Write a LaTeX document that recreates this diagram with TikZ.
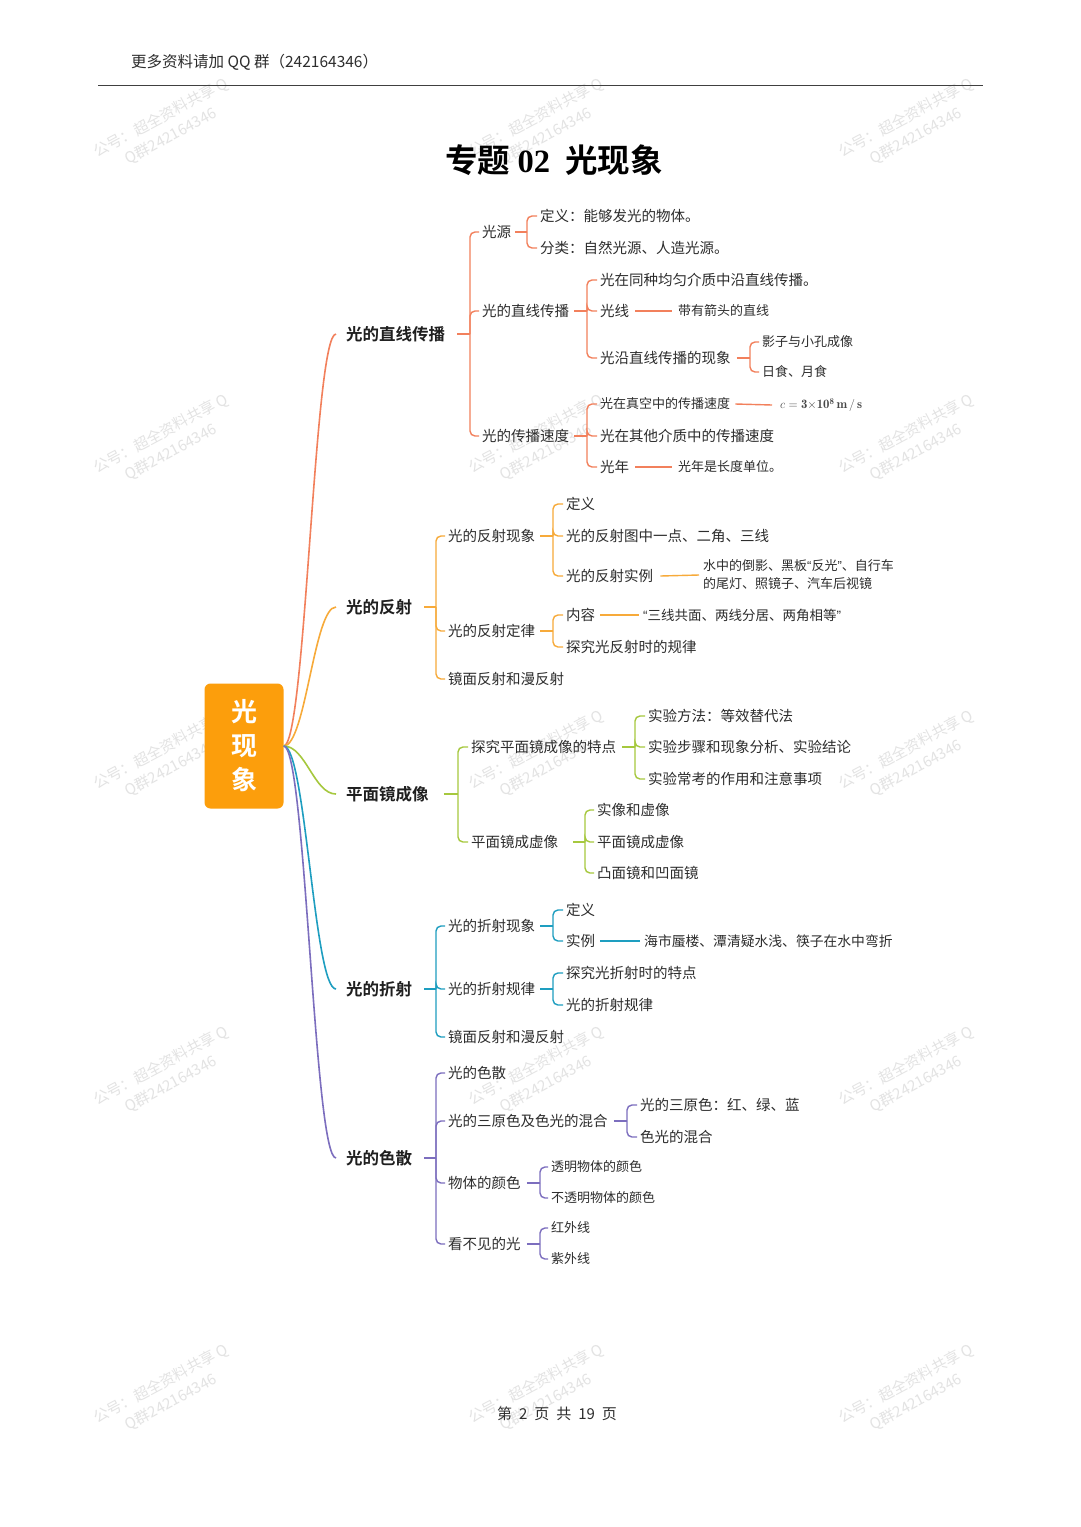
\documentclass[tikz,border=0pt]{standalone}
\usepackage{fontspec}
\newfontfamily\cjk{Noto Sans CJK SC}
\newfontfamily\cjkb{Noto Sans CJK SC Bold}
\newfontfamily\lat{Liberation Sans}
\newfontfamily\serifb{Liberation Serif Bold}
\definecolor{ca}{RGB}{242,128,92}
\definecolor{cb}{RGB}{247,170,58}
\definecolor{cc}{RGB}{166,200,62}
\definecolor{cd}{RGB}{30,158,192}
\definecolor{ce}{RGB}{124,110,190}
\definecolor{rootc}{RGB}{252,158,12}
\definecolor{txtc}{RGB}{45,45,45}
\newcommand\brk[5]{%
  \draw[#1,cn] ([xshift=#3]#2.east) -- (#2.east -| #4,0);
  \foreach \c in {#5}{\draw[#1,cn] (#2.east -| #4,0) |- ([xshift=-3pt]\c.west);}}
\newcommand\myoq{{\lat “}}
\newcommand\mycq{{\lat ”}}
\begin{document}
\begin{tikzpicture}[x=1pt,y=-1pt,
  base/.style={anchor=west, inner sep=0pt, text=txtc},
  txt/.style={base, font=\cjk\fontsize{14.5}{16}\selectfont, text height=12.7pt, text depth=1.8pt},
  sm/.style={base, font=\cjk\fontsize{13}{15}\selectfont, text height=11.4pt, text depth=1.6pt},
  lone/.style={base, text=black!88, font=\cjkb\fontsize{16.5}{18}\selectfont, text height=14.5pt, text depth=2pt},
  cn/.style={line width=1.4pt, rounded corners=5pt},
  rcv/.style={line width=1.6pt},
  wm/.style={text=black!11, font=\cjk\fontsize{15}{21}\selectfont, rotate=28, inner sep=0pt, align=center},
]
\useasboundingbox (0,0) rectangle (1080,1527);
\fill[white] (0,0) rectangle (1080,1527);
% watermarks
\foreach \dx in {0,375,745}{\foreach \dy in {0,316,632,948,1266}{
  \node[wm] (w-\dx-\dy) at (166+\dx,127+\dy) {公号：超全资料共享 Q\\Q群242164346};
}}
% header
\node[base, font=\cjk\fontsize{15.5}{17}\selectfont] (hdr) at (131,62) {更多资料请加 QQ 群（242164346）};
\coordinate (rl) at (98,85);
\coordinate (rr) at (983,85);
\draw[black!75, line width=1pt] (rl) -- (rr);
\node[inner sep=0pt, text=black, font=\cjkb\fontsize{32.5}{35}\selectfont] (title) at (554,160) {专题 {\serifb 02}\hspace{15pt}光现象};
\node[inner sep=0pt, text=txtc, font=\cjk\fontsize{15}{16}\selectfont] (foot) at (557,1414) {第\hspace{7pt}2\hspace{7pt}页\hspace{7pt}共\hspace{7pt}19\hspace{7pt}页};
% root
\node[fill=rootc, rounded corners=6pt, minimum width=79pt, minimum height=125pt, inner sep=0pt,
  text=white, align=center, font=\cjkb\fontsize{26}{34}\selectfont] (R) at (244,746) {光\\现\\象};
% level 1
\node[lone] (A) at (346,334) {光的直线传播};
\node[lone] (B) at (346,607) {光的反射};
\node[lone] (C) at (346,794) {平面镜成像};
\node[lone] (D) at (346,989) {光的折射};
\node[lone] (E) at (346,1158) {光的色散};
\draw[ca,rcv] (R.east) .. controls +(22,0) and +(-22,0) .. ([xshift=-10pt]A.west);
\draw[cb,rcv] (R.east) .. controls +(22,0) and +(-22,0) .. ([xshift=-10pt]B.west);
\draw[cc,rcv] (R.east) .. controls +(22,0) and +(-22,0) .. ([xshift=-10pt]C.west);
\draw[cd,rcv] (R.east) .. controls +(22,0) and +(-22,0) .. ([xshift=-10pt]D.west);
\draw[ce,rcv] (R.east) .. controls +(22,0) and +(-22,0) .. ([xshift=-10pt]E.west);
% ---- section A
\node[txt] (A1) at (482,232) {光源};
\node[txt] (A11) at (540,216) {定义：能够发光的物体。};
\node[txt] (A12) at (540,248) {分类：自然光源、人造光源。};
\node[txt] (A2) at (482,311) {光的直线传播};
\node[txt] (A21) at (600,280) {光在同种均匀介质中沿直线传播。};
\node[txt] (A22) at (600,311) {光线};
\node[sm] (A22a) at (678,311) {带有箭头的直线};
\node[txt] (A23) at (600,358) {光沿直线传播的现象};
\node[sm] (A231) at (762,342) {影子与小孔成像};
\node[sm] (A232) at (762,372) {日食、月食};
\node[txt] (A3) at (482,436) {光的传播速度};
\node[sm] (A31) at (600,404) {光在真空中的传播速度};
\node[base, text=black!72, font=\fontsize{12.8}{14}\selectfont] (A31a) at (780,405) {$c=\mathbf{3{\times}10^{8}\,m\,/\,s}$};
\node[txt] (A32) at (600,436) {光在其他介质中的传播速度};
\node[txt] (A33) at (600,467) {光年};
\node[sm] (A33a) at (678,467) {光年是长度单位。};
\brk{ca}{A}{12pt}{470}{A1,A2,A3}
\brk{ca}{A1}{4pt}{527}{A11,A12}
\brk{ca}{A2}{5pt}{587}{A21,A22,A23}
\brk{ca}{A23}{6pt}{750}{A231,A232}
\brk{ca}{A3}{5pt}{587}{A31,A32,A33}
\draw[ca,cn] ([xshift=6pt]A22.east) -- ([xshift=-6pt]A22a.west);
\draw[ca,cn] ([xshift=5pt]A31.east) -- ([xshift=-8pt]A31a.west);
\draw[ca,cn] ([xshift=6pt]A33.east) -- ([xshift=-6pt]A33a.west);
% ---- section B
\node[txt] (B1) at (448,536) {光的反射现象};
\node[txt] (B11) at (566,504) {定义};
\node[txt] (B12) at (566,536) {光的反射图中一点、二角、三线};
\node[txt] (B13) at (566,576) {光的反射实例};
\node[base, align=left, font=\cjk\fontsize{13}{18}\selectfont] (B13a) at (703,575) {水中的倒影、黑板\myoq 反光\mycq 、自行车\\的尾灯、照镜子、汽车后视镜};
\node[txt] (B2) at (448,631) {光的反射定律};
\node[txt] (B21) at (566,615) {内容};
\node[base, font=\cjk\fontsize{13.5}{15}\selectfont, text height=11.8pt, text depth=1.7pt] (B21a) at (643,615) {\myoq 三线共面、两线分居、两角相等\mycq};
\node[txt] (B22) at (566,647) {探究光反射时的规律};
\node[txt] (B3) at (448,679) {镜面反射和漫反射};
\brk{cb}{B}{12pt}{436}{B1,B2,B3}
\brk{cb}{B1}{5pt}{553}{B11,B12,B13}
\brk{cb}{B2}{5pt}{553}{B21,B22}
\draw[cb,cn] ([xshift=7pt]B13.east) -- ([xshift=-4pt]B13a.west);
\draw[cb,cn] ([xshift=5pt]B21.east) -- ([xshift=-4pt]B21a.west);
% ---- section C
\node[txt] (C1) at (471,747) {探究平面镜成像的特点};
\node[txt] (C11) at (648,716) {实验方法：等效替代法};
\node[txt] (C12) at (648,747) {实验步骤和现象分析、实验结论};
\node[txt] (C13) at (648,779) {实验常考的作用和注意事项};
\node[txt] (C2) at (471,842) {平面镜成虚像};
\node[txt] (C21) at (597,810) {实像和虚像};
\node[txt] (C22) at (597,842) {平面镜成虚像};
\node[txt] (C23) at (597,873) {凸面镜和凹面镜};
\brk{cc}{C}{15pt}{458}{C1,C2}
\brk{cc}{C1}{6pt}{635}{C11,C12,C13}
\brk{cc}{C2}{15pt}{585}{C21,C22,C23}
% ---- section D
\node[txt] (D1) at (448,926) {光的折射现象};
\node[txt] (D11) at (566,910) {定义};
\node[txt] (D12) at (566,941) {实例};
\node[base, font=\cjk\fontsize{13.8}{15}\selectfont, text height=12pt, text depth=1.7pt] (D12a) at (644,941) {海市蜃楼、潭清疑水浅、筷子在水中弯折};
\node[txt] (D2) at (448,989) {光的折射规律};
\node[txt] (D21) at (566,973) {探究光折射时的特点};
\node[txt] (D22) at (566,1005) {光的折射规律};
\node[txt] (D3) at (448,1037) {镜面反射和漫反射};
\brk{cd}{D}{12pt}{436}{D1,D2,D3}
\brk{cd}{D1}{5pt}{553}{D11,D12}
\brk{cd}{D2}{5pt}{553}{D21,D22}
\draw[cd,cn] ([xshift=5pt]D12.east) -- ([xshift=-4pt]D12a.west);
% ---- section E
\node[txt] (E1) at (448,1073) {光的色散};
\node[txt] (E2) at (448,1121) {光的三原色及色光的混合};
\node[txt] (E21) at (640,1105) {光的三原色：红、绿、蓝};
\node[txt] (E22) at (640,1137) {色光的混合};
\node[txt] (E3) at (448,1183) {物体的颜色};
\node[sm] (E31) at (551,1167) {透明物体的颜色};
\node[sm] (E32) at (551,1198) {不透明物体的颜色};
\node[txt] (E4) at (448,1244) {看不见的光};
\node[sm] (E41) at (551,1228) {红外线};
\node[sm] (E42) at (551,1259) {紫外线};
\brk{ce}{E}{12pt}{436}{E1,E2,E3,E4}
\brk{ce}{E2}{6pt}{627}{E21,E22}
\brk{ce}{E3}{6pt}{540}{E31,E32}
\brk{ce}{E4}{6pt}{540}{E41,E42}
\end{tikzpicture}
\end{document}
